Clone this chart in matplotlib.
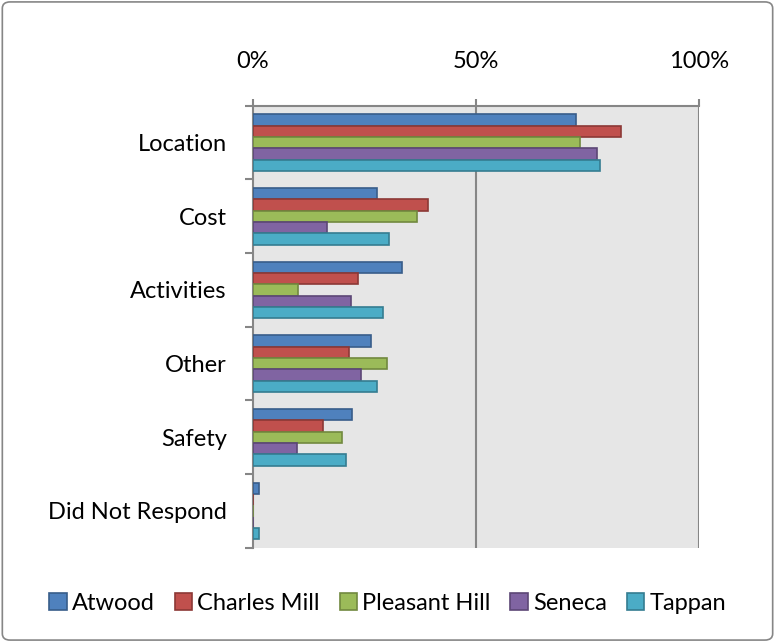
import matplotlib
matplotlib.use("Agg")
import matplotlib.pyplot as plt
from matplotlib.patches import FancyBboxPatch
import numpy as np

plt.rcParams['font.family'] = ['Lato', 'DejaVu Sans']

categories = ['Location', 'Cost', 'Activities', 'Other', 'Safety', 'Did Not Respond']
series = ['Atwood', 'Charles Mill', 'Pleasant Hill', 'Seneca', 'Tappan']
values = {
    'Atwood':        [72.4, 27.8, 33.3, 26.4, 22.3, 1.3],
    'Charles Mill':  [82.5, 39.3, 23.6, 21.6, 15.8, 0.0],
    'Pleasant Hill': [73.4, 36.8, 10.0, 30.0, 20.0, 0.0],
    'Seneca':        [77.1, 16.5, 22.0, 24.3, 9.9, 0.0],
    'Tappan':        [77.9, 30.6, 29.1, 27.9, 20.9, 1.3],
}
fills = ['#4F81BD', '#C0504D', '#9BBB59', '#8064A2', '#4BACC6']
edges = ['#385D8A', '#8C3836', '#71893F', '#5C4776', '#357D91']
fs = 17

fig = plt.figure(figsize=(7.75, 6.42), dpi=100)
ax = fig.add_axes([253/775, 1-547.7/642, 446/775, 442/642])
ax.set_facecolor('#E6E6E6')

y = np.arange(len(categories))
h = 0.154
for i, s in enumerate(series):
    ax.barh(y + (i-2)*h, values[s], height=h, color=fills[i],
            edgecolor=edges[i], linewidth=1.2, label=s, zorder=3)

ax.set_xlim(0, 100)
ax.set_ylim(len(categories)-0.5, -0.5)
ax.xaxis.tick_top()
ax.set_xticks([0, 50, 100])
ax.set_xticklabels(['0%', '50%', '100%'])
ax.tick_params(axis='x', length=5, color='#868686', width=1.5, pad=19, labelsize=fs)
for xv in [50, 100]:
    ax.axvline(xv, color='#868686', linewidth=1.5, zorder=2)

ax.set_yticks(y)
ax.set_yticklabels(categories)
ax.set_yticks(np.arange(-0.5, len(categories)), minor=True)
ax.tick_params(axis='y', which='major', length=0, pad=19, labelsize=fs)
ax.tick_params(axis='y', which='minor', length=6, color='#868686', width=1.5)

for side in ['right', 'bottom']:
    ax.spines[side].set_visible(False)
for side in ['top', 'left']:
    ax.spines[side].set_color('#868686')
    ax.spines[side].set_linewidth(1.5)

fig.legend(loc='center', bbox_to_anchor=(0.5, 1-603/642), ncol=5, frameon=False,
           fontsize=fs, handlelength=0.75, handleheight=0.75, handletextpad=0.2,
           columnspacing=0.85)

border = FancyBboxPatch((0.003, 0.003), 0.994, 0.994, boxstyle='round,pad=0,rounding_size=0.01',
                        transform=fig.transFigure, fill=False, edgecolor='#868686', linewidth=1.2)
fig.patches.append(border)

fig.savefig('out.png', dpi=100)
